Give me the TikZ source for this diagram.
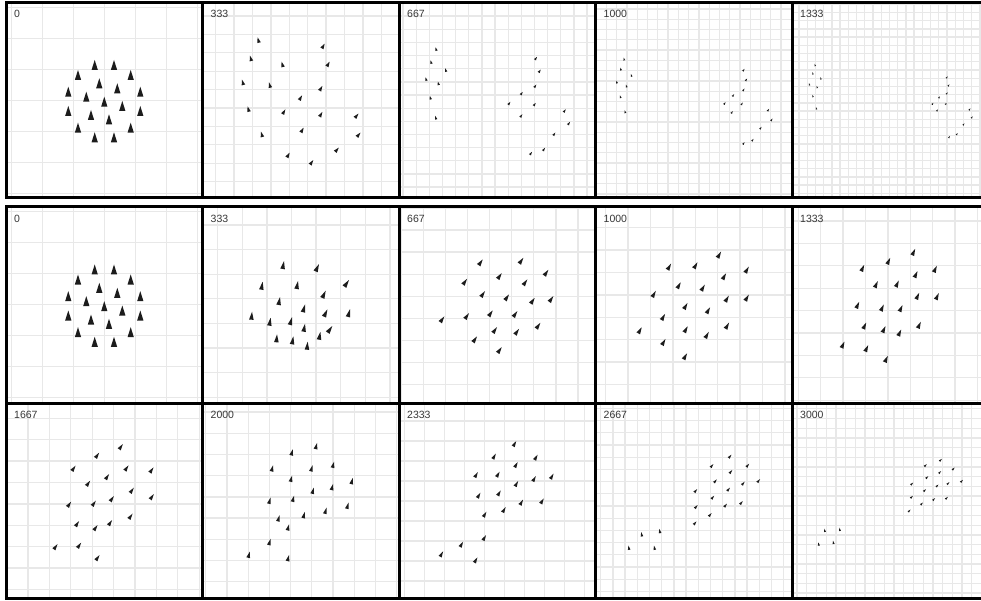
\documentclass[tikz,border=0pt]{standalone}
\usepackage{fontspec}
\setsansfont{Liberation Sans}
\usepackage{tikz}
\usetikzlibrary{positioning}
\definecolor{gridgray}{RGB}{232,232,232}
\definecolor{boidgray}{RGB}{28,28,28}
\definecolor{labelgray}{RGB}{55,55,55}

% one boid: x, y, turn, length, width
\newcommand{\boid}[5]{%
  \fill[boid, shift={(#1,#2)}, rotate=#3] (0,{-#4/2}) -- ({#5/2},{#4/2}) -- ({-#5/2},{#4/2}) -- cycle;}
% grid of one frame: left, top, first x line, first y line, spacing
\newcommand{\framegrid}[5]{%
  \begin{scope}
    \clip (#1,#2) rectangle ++(196.5,196);
    \foreach \k in {0,...,27} {
      \draw[gridline] ({#3+\k*#5},#2) -- ++(0,196);
      \draw[gridline] (#1,{#4+\k*#5}) -- ++(196.5,0);
    }
  \end{scope}}
% start flock, used twice
\newcommand{\flockzero}{94.7/65, 114/65, 78/75, 130.7/75, 99.3/83.3, 117.3/88.3,
  68.3/91.7, 86.3/96.7, 140.3/91.7, 104.3/101.7, 122.3/106, 68.3/111, 140.3/111,
  91/115, 109/119.3, 78/127.7, 130.7/127.7, 94.7/137.3, 114/137.3}

\begin{document}
\begin{tikzpicture}[x=1pt, y=-1pt,
    frame/.style={draw=black, line width=3pt},
    gridline/.style={draw=gridgray, line width=1.3pt},
    boid/.style={fill=boidgray},
    framelabel/.style={font=\sffamily\fontsize{10.5}{12}\selectfont, text=labelgray,
                       anchor=base west, inner sep=0pt},
  ]
  \useasboundingbox (0,0) rectangle (981,601);
  \clip (0,0) rectangle (981,601);
  \fill[white] (0,0) rectangle (981,601);

  % grids, top run
  \framegrid{6}{2.5}{-19.7}{-23.7}{31}
  \framegrid{202.5}{2.5}{197.3}{-2.4}{18.4}
  \framegrid{399}{2.5}{389.85}{-10.15}{13.15}
  \framegrid{595.5}{2.5}{585.9}{-1.24}{10.27}
  \framegrid{792}{2.5}{790.8}{-3.96}{8.22}
  % grids, second run
  \framegrid{6}{207}{-19.7}{180.7}{31}
  \framegrid{202.5}{207}{193.1}{200.4}{24.6}
  \framegrid{399}{207}{379.1}{185.8}{22.1}
  \framegrid{595.5}{207}{583.3}{205.3}{22.4}
  \framegrid{792}{207}{775.9}{198.6}{22.4}
  \framegrid{6}{403}{-14.8}{396.9}{21.4}
  \framegrid{202.5}{403}{184.6}{390.9}{21.2}
  \framegrid{399}{403}{384.7}{381}{20}
  \framegrid{595.5}{403}{588.5}{396.2}{12.2}
  \framegrid{792}{403}{787.4}{399.1}{9.7}

  % top run of frames
  \foreach \x/\y in \flockzero {\boid{\x}{\y}{0}{10}{6.3}}
  \foreach \x/\y/\a in {258.3/40/15, 323.3/46/-30, 250.7/58.3/15, 282.3/64.3/15,
      328.3/64/-30, 242.7/82.3/15, 269.7/85/15, 321/88.3/-30, 300.7/97.7/-30,
      248.3/109/15, 284/111.7/-30, 321/114.3/-30, 356.7/115.7/-40, 261.7/134.3/15,
      302.3/130/-30, 358.7/134.7/-40, 337/149.7/-40, 288.3/155/-30, 311.7/162.3/-35}
    {\boid{\x}{\y}{\a}{5.5}{3.6}}
  \foreach \x/\y/\a in {436/49/15, 431/62/15, 445.7/70/15, 426/79/15, 438.3/83.3/15,
      430.3/97.7/15, 435.7/117.7/15, 536/58.3/-35, 539.7/71/-35, 535.3/86/-35,
      521.7/93.3/-35, 509.3/103.3/-35, 534.7/104.3/-35, 521.3/115.7/-35,
      564.7/110.7/-35, 569/123.3/-35, 554.3/134/-35, 544/149.3/-35, 531/153.3/-35}
    {\boid{\x}{\y}{\a}{3.6}{2.4}}
  \foreach \x/\y/\a in {624/59/15, 620.7/69/15, 631.3/75.3/15, 616.7/82/15, 626.3/86/15,
      620.3/96.7/15, 625/111.7/15, 743.7/70/-35, 746.3/79.7/-35, 743.7/89.7/-35,
      733.3/95.3/-35, 724.7/103.3/-35, 742/103.7/-35, 732/112.3/-35, 768.3/110/-35,
      771.7/119.7/-35, 760.7/128/-35, 752.7/140/-35, 743.7/143.3/-35}
    {\boid{\x}{\y}{\a}{2.8}{1.9}}
  \foreach \x/\y/\a in {815/65/15, 812.7/73.3/15, 820.7/78.3/15, 809.3/84.3/15, 817/87/15,
      812.7/96/15, 816.3/108.3/15, 947/77.3/-35, 948.7/85.3/-35, 947/93.3/-35,
      939.3/97.3/-35, 932.7/103.7/-35, 946/103.7/-35, 937.3/110.3/-35, 969.7/109.3/-35,
      972/117.3/-35, 963.7/124.3/-35, 957/134/-35, 949.3/137/-35}
    {\boid{\x}{\y}{\a}{2.3}{1.6}}

  % second run of frames
  \begin{scope}[shift={(0,204.5)}]
    \foreach \x/\y in \flockzero {\boid{\x}{\y}{0}{10}{6.3}}
  \end{scope}
  \foreach \x/\y/\a in {283.3/265/-10, 317.3/267.7/-25, 262/285.7/-10, 297.3/285/-10,
      346.7/283.3/-35, 279.3/301/-10, 324/294.3/-25, 304/308.3/-15, 325.7/313/-25,
      349/313/-15, 251.7/315.7/-5, 270/321.7/-10, 291/321/-15, 304.3/327.7/-10,
      330/329.3/-35, 276.7/338.3/-5, 292.7/340.3/-10, 307.3/345.7/-5, 319.7/335.7/-10}
    {\boid{\x}{\y}{\a}{8}{4.6}}
  \foreach \x/\y in {480.7/262.3, 521.3/260.7, 546.3/272.7, 499.7/276, 465/281.7,
      525.3/282.3, 483/294, 507/297.3, 532.7/300.7, 551.3/299, 442.3/319.3, 467/316,
      490.7/313.3, 515.3/314, 538.3/325.7, 495/330, 517/331.7, 475/339.3, 499.7/350}
    {\boid{\x}{\y}{-35}{7}{4.2}}
  \foreach \x/\y in {719.3/254.7, 669.3/266.7, 695.7/265.3, 747/269.7, 724.3/276.3,
      679/285.3, 703/287.7, 654/294, 727/298.7, 747/297.7, 685.7/306, 708.3/310.3,
      663.3/317, 640/330.3, 686/329.3, 707/335, 727.3/325.7, 663.7/342, 685.3/356.3}
    {\boid{\x}{\y}{-30}{7}{4.2}}
  \foreach \x/\y in {913.7/252, 888.7/261, 862.7/268, 935.3/269, 916/274.3, 876.3/284.3,
      897.3/283.7, 917.7/296, 937.3/296.3, 857.7/305, 882.3/307.7, 901/308.3,
      864.7/325.7, 884/329.3, 899.7/332.7, 919.3/325, 843/344.7, 866.7/348.3, 886.3/359}
    {\boid{\x}{\y}{-25}{7}{4.2}}
  \foreach \x/\y in {121/446.7, 97.3/455.3, 73.7/468.3, 126.7/468, 151.7/470, 107.3/476.7,
      88.3/483.3, 132/490.3, 112/498.7, 152/496.7, 69.3/504.3, 94/503.3, 77.3/523.7,
      95.7/527.7, 110.3/522.7, 130.7/516.3, 55.7/546.7, 79.3/545.3, 97.7/557.7}
    {\boid{\x}{\y}{-35}{6.3}{3.8}}
  \foreach \x/\y in {316.3/446, 292/452.3, 272.3/468.3, 311.7/468.3, 333.3/464.7,
      291.3/478.7, 352/481, 313/490.7, 332.3/487, 293.3/498.7, 269.7/500.7, 347.7/505.7,
      325.7/510.7, 304/515, 278.7/518.3, 288.3/527.3, 269.7/542, 249/554.7, 288.3/558}
    {\boid{\x}{\y}{-15}{6.3}{3.8}}
  \foreach \x/\y in {514.7/443.7, 494.3/456.3, 536.1/457.3, 516.2/464.7, 476.3/474.7,
      498.1/474.3, 534.3/478.7, 552/476.3, 516.6/483.7, 478.9/495.3, 499.2/493,
      521.5/502.3, 542.2/501, 504.1/509.7, 484.9/514.3, 484.5/537.7, 461.6/544.3,
      441.6/554, 475.9/560}
    {\boid{\x}{\y}{-30}{6}{3.6}}
  \foreach \x/\y/\a in {730.1/456.3/-40, 712/465.7/-40, 747.8/465.3/-40, 730.9/471.7/-40,
      715.4/481/-40, 743.3/483.3/-40, 758.7/480.7/-40, 728.6/489.3/-40, 695.8/490.7/-40,
      712.8/497.3/-40, 741.4/502.7/-40, 725.6/505.3/-40, 696.2/506.7/-40, 710.2/514.7/-40,
      695.1/523/-40, 641.6/534.3/10, 659.7/531/10, 628.8/547.7/10, 654.4/547.7/10}
    {\boid{\x}{\y}{\a}{4.3}{2.6}}
  \foreach \x/\y/\a in {940.7/460/-45, 925.6/465.3/-45, 953.5/468.7/-45, 939.9/472.3/-45,
      927.1/477.3/-45, 912/483.7/-45, 937.3/485.7/-45, 948.2/483.3/-45, 961.8/481/-45,
      924.8/490.3/-45, 911.7/497/-45, 933.9/499.3/-45, 946.7/498/-45, 921.8/503.7/-45,
      909.4/510.7/-45, 824.7/530.3/10, 839.7/529.3/10, 818.6/544/10, 833.3/542.3/10}
    {\boid{\x}{\y}{\a}{3.3}{2}}

  % frames and step counts
  \foreach \px/\t [count=\i] in {6/0, 202.5/333, 399/667, 595.5/1000, 792/1333} {
    \draw[frame] (\px,2.5) rectangle ++(196.5,195.5);
    \node[framelabel] (topstep\i) at ({\px+8},18) {\t};
  }
  \foreach \px/\t [count=\i] in {6/0, 202.5/333, 399/667, 595.5/1000, 792/1333} {
    \draw[frame] (\px,207) rectangle ++(196.5,196);
    \node[framelabel] (midstep\i) at ({\px+8},222.5) {\t};
  }
  \foreach \px/\t [count=\i] in {6/1667, 202.5/2000, 399/2333, 595.5/2667, 792/3000} {
    \draw[frame] (\px,403) rectangle ++(196.5,195.5);
    \node[framelabel] (lowstep\i) at ({\px+8},418.5) {\t};
  }
\end{tikzpicture}
\end{document}
